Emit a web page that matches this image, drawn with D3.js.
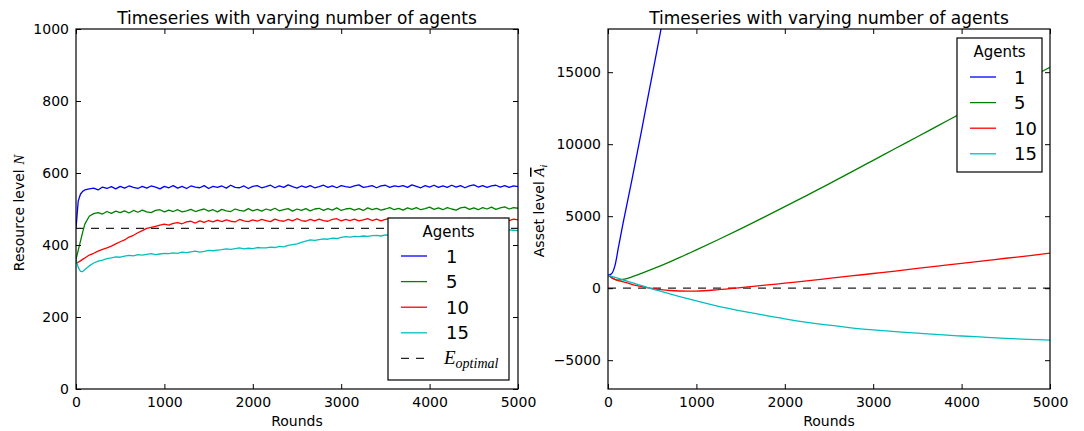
<!DOCTYPE html>
<html><head><meta charset="utf-8">
<script src="https://cdn.jsdelivr.net/npm/d3@7"></script>
<style>
body{margin:0;background:#fff}
svg{display:block;font-family:"DejaVu Sans",sans-serif}
</style>
</head><body>
<svg id="c" width="1084" height="431"></svg>
<script>
// ---------- data ----------
const agentLabels = ["1", "5", "10", "15"];
const seriesColors = ["#0000ff", "#008000", "#ff0000", "#00bfbf"];
const chartTitle = "Timeseries with varying number of agents";

const xTicks = [0, 1000, 2000, 3000, 4000, 5000];
const resourceTicks = [0, 200, 400, 600, 800, 1000];
const assetTicks = [-5000, 0, 5000, 10000, 15000];

const resRounds = [0,25,50,75,100,150,200,250,300,350,400,450,500,550,600,650,700,750,800,850,900,950,1000,1050,1100,1150,1200,1250,1300,1350,1400,1450,1500,1550,1600,1650,1700,1750,1800,1850,1900,1950,2000,2050,2100,2150,2200,2250,2300,2350,2400,2450,2500,2550,2600,2650,2700,2750,2800,2850,2900,2950,3000,3050,3100,3150,3200,3250,3300,3350,3400,3450,3500,3550,3600,3650,3700,3750,3800,3850,3900,3950,4000,4050,4100,4150,4200,4250,4300,4350,4400,4450,4500,4550,4600,4650,4700,4750,4800,4850,4900,4950,5000];

const resource1 = [446,522,541,549,553,
  556,558,553,561,557,562,556,563,558,564,
  560,557,563,558,564,561,556,563,559,565,
  558,563,557,564,561,559,565,557,563,560,
  564,558,566,560,559,564,557,563,565,559,
  562,566,559,564,560,567,562,558,564,560,
  565,559,562,566,560,564,559,565,562,560,
  564,567,560,562,565,559,564,566,560,564,
  562,565,560,567,563,559,565,561,566,560,
  564,560,566,561,565,559,564,567,561,565,
  560,564,566,561,565,560,564,562];
const resource5 = [360,385,410,435,458,
  480,487,490,486,493,488,494,490,495,489,
  496,491,497,492,490,496,498,492,497,493,
  498,492,495,499,493,497,500,494,498,492,
  499,495,493,500,496,494,501,495,499,494,
  500,496,502,495,498,501,494,500,496,501,
  495,500,502,496,501,497,503,496,500,502,
  497,501,496,503,498,502,497,500,504,498,
  502,497,503,499,504,498,501,505,499,503,
  498,504,500,497,503,505,499,503,498,504,
  500,505,499,503,506,500,504,502];
const resource10 = [350,352,356,360,364,
  372,377,383,388,392,397,403,409,414,422,
  427,434,440,446,449,452,455,458,455,460,
  462,459,464,466,461,467,463,468,464,469,
  465,470,466,464,471,467,465,470,466,471,
  468,465,472,468,466,471,467,473,468,466,
  471,467,472,468,466,471,473,467,471,468,
  472,467,470,473,468,472,467,471,474,468,
  472,468,473,470,467,472,468,473,470,467,
  472,468,473,469,467,472,474,468,472,469,
  473,468,472,470,474,468,472,470];
const resource15 = [362,338,327,326,332,
  342,350,355,358,362,364,367,366,369,371,
  370,373,372,374,376,373,375,377,376,378,
  377,380,379,381,383,380,382,385,384,386,
  387,389,388,390,392,389,391,390,393,392,
  392,394,393,396,395,399,401,403,407,411,
  414,413,415,417,416,419,418,421,423,422,
  424,423,425,424,426,427,425,428,427,429,
  428,430,429,431,430,432,431,433,432,434,
  433,435,434,436,435,437,436,438,437,439,
  438,440,439,441,440,442,441,440];
const eOptimal = 446;

const assetRounds1 = [0,40,80,120,170,270,400,500,600,700];
const asset1 = [900,1000,1600,2900,4500,7500,11600,14800,18000,21200];
const assetRounds = [0,50,100,200,300,400,500,600,700,800,900,1000,1250,1500,1750,2000,2250,2500,2750,3000,3250,3500,3750,4000,4250,4500,4750,5000];
const asset5  = [900,700,560,640,850,1080,1320,1570,1830,2100,2380,2660,3380,4120,4880,5660,6450,7250,8060,8880,9700,10520,11340,12160,12960,13760,14550,15340];
const asset10 = [900,700,560,400,220,90,-20,-100,-160,-195,-205,-200,-100,40,190,350,510,680,850,1020,1190,1370,1550,1730,1900,2080,2250,2430];
const asset15 = [900,800,710,520,330,145,-45,-220,-390,-560,-720,-885,-1260,-1570,-1860,-2130,-2370,-2570,-2750,-2890,-3010,-3120,-3230,-3320,-3400,-3480,-3550,-3610];
const assetZero = 0;

// ---------- drawing ----------
const svg = d3.select("#c");
const FS_TICK = 14;

function fmtTick(d){ return d < 0 ? "\u2212" + Math.abs(d) : String(d); }

function panel(cfg){
  const g = svg.append("g");
  const x = d3.scaleLinear().domain([0, 5000]).range([cfg.x0, cfg.x1]);
  const y = d3.scaleLinear().domain(cfg.yDomain).range([389, 29]);
  const clipId = "clip" + cfg.id;
  svg.append("clipPath").attr("id", clipId).append("rect")
    .attr("x", cfg.x0).attr("y", 29).attr("width", cfg.x1 - cfg.x0).attr("height", 360);

  const lines = g.append("g").attr("clip-path", `url(#${clipId})`);
  lines.append("line")
    .attr("x1", x(0)).attr("x2", x(5000))
    .attr("y1", y(cfg.refValue)).attr("y2", y(cfg.refValue))
    .attr("stroke", "#222").attr("stroke-width", 1.3)
    .attr("stroke-dasharray", "8,7");

  const line = d3.line().x(d => x(d[0])).y(d => y(d[1]));
  cfg.series.forEach((s, i) => {
    const pts = s.rounds.map((r, k) => [r, s.values[k]]);
    lines.append("path").datum(pts)
      .attr("d", cfg.smooth ? line.curve(d3.curveMonotoneX)(pts) : line.curve(d3.curveLinear)(pts))
      .attr("fill", "none").attr("stroke", seriesColors[i])
      .attr("stroke-width", 1.3).attr("stroke-linejoin", "round");
  });

  const ax = g.append("g");
  ax.append("g").attr("transform", "translate(0,389)")
    .call(d3.axisBottom(x).tickValues(xTicks).tickFormat(fmtTick).tickSizeInner(-5).tickSizeOuter(0).tickPadding(8));
  ax.append("g").attr("transform", "translate(0,29)")
    .call(d3.axisTop(x).tickValues(xTicks).tickFormat("").tickSizeInner(-5).tickSizeOuter(0));
  ax.append("g").attr("transform", `translate(${cfg.x0},0)`)
    .call(d3.axisLeft(y).tickValues(cfg.yTicks).tickFormat(fmtTick).tickSizeInner(-5).tickSizeOuter(0).tickPadding(7));
  ax.append("g").attr("transform", `translate(${cfg.x1},0)`)
    .call(d3.axisRight(y).tickValues(cfg.yTicks).tickFormat("").tickSizeInner(-5).tickSizeOuter(0));
  ax.selectAll(".domain").remove();
  ax.selectAll("g").attr("font-size", null).attr("font-family", null);
  ax.selectAll(".tick line").attr("stroke", "#000").attr("stroke-width", 1);
  ax.selectAll(".tick text").attr("fill", "#000")
    .attr("font-family", "DejaVu Sans").attr("font-size", FS_TICK);

  g.append("rect").attr("x", cfg.x0).attr("y", 29).attr("width", cfg.x1 - cfg.x0).attr("height", 360)
    .attr("fill", "none").attr("stroke", "#000").attr("stroke-width", 1.2);

  g.append("text").attr("x", (cfg.x0 + cfg.x1) / 2).attr("y", 23.5)
    .attr("text-anchor", "middle").attr("font-size", 17).text(chartTitle);
  g.append("text").attr("x", (cfg.x0 + cfg.x1) / 2).attr("y", 426)
    .attr("text-anchor", "middle").attr("font-size", 14).text("Rounds");

  const yl = g.append("text").attr("transform", `translate(${cfg.ylx},${cfg.yly}) rotate(-90)`)
    .attr("text-anchor", "middle").attr("font-size", 14);
  cfg.ylabel(yl);

  const L = cfg.legend;
  const lg = g.append("g");
  lg.append("rect").attr("x", L.x).attr("y", L.y).attr("width", L.w).attr("height", L.h)
    .attr("fill", "#fff").attr("stroke", "#000").attr("stroke-width", 1.2);
  lg.append("text").attr("x", L.x + L.w / 2).attr("y", L.y + 19).attr("text-anchor", "middle")
    .attr("font-size", 15).text("Agents");
  agentLabels.forEach((lab, i) => {
    const yy = L.y + L.first + i * 25.6;
    lg.append("line").attr("x1", L.x + 13).attr("x2", L.x + 39).attr("y1", yy).attr("y2", yy)
      .attr("stroke", seriesColors[i]).attr("stroke-width", 1.3);
    lg.append("text").attr("x", L.x + L.tx).attr("y", yy + 6.5).attr("font-size", 18).text(lab);
  });
  if (L.opt) {
    const yy = L.y + L.first + 4 * 25.6;
    lg.append("line").attr("x1", L.x + 13).attr("x2", L.x + 39).attr("y1", yy).attr("y2", yy)
      .attr("stroke", "#222").attr("stroke-width", 1.3).attr("stroke-dasharray", "8,7");
    const t = lg.append("text").attr("x", L.x + L.tx - 2).attr("y", yy + 6)
      .attr("font-family", "Liberation Serif").attr("font-style", "italic");
    t.append("tspan").attr("font-size", 19).text("E");
    t.append("tspan").attr("font-size", 14).attr("dy", 4).text("optimal");
  }
}

panel({
  id: "L", x0: 76, x1: 518, yDomain: [0, 1000], yTicks: resourceTicks, refValue: eOptimal, smooth: false,
  series: [
    {rounds: resRounds, values: resource1},
    {rounds: resRounds, values: resource5},
    {rounds: resRounds, values: resource10},
    {rounds: resRounds, values: resource15}
  ],
  ylx: 24, yly: 213,
  ylabel: t => {
    t.append("tspan").text("Resource level ");
    t.append("tspan").attr("font-family", "Liberation Serif").attr("font-style", "italic").attr("font-size", 15).text("N");
  },
  legend: {x: 388, y: 218, w: 121, h: 162, first: 38, tx: 58, opt: true}
});

panel({
  id: "R", x0: 608, x1: 1050, yDomain: [-7000, 18000], yTicks: assetTicks, refValue: assetZero, smooth: true,
  series: [
    {rounds: assetRounds1, values: asset1},
    {rounds: assetRounds, values: asset5},
    {rounds: assetRounds, values: asset10},
    {rounds: assetRounds, values: asset15}
  ],
  ylx: 544, yly: 211,
  ylabel: t => {
    t.append("tspan").text("Asset level ");
    t.append("tspan").attr("font-family", "Liberation Serif").attr("font-style", "italic").attr("font-size", 15)
      .style("text-decoration", "overline").text("A");
    t.append("tspan").attr("font-family", "Liberation Serif").attr("font-style", "italic").attr("font-size", 10)
      .attr("dy", 3).text("i");
  },
  legend: {x: 957, y: 38, w: 85, h: 134, first: 39, tx: 57, opt: false}
});
</script>
</body></html>
